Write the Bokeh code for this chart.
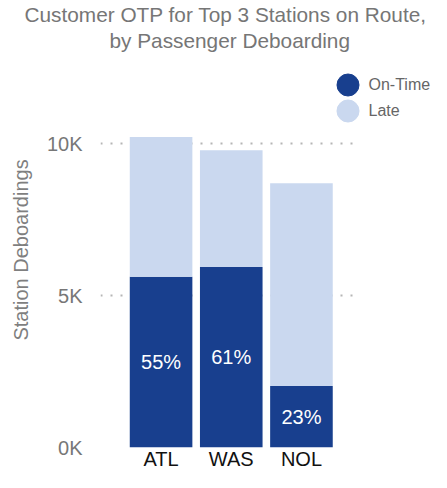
from bokeh.plotting import figure
from bokeh.models import (ColumnDataSource, Range1d, FixedTicker, CustomJSTickFormatter,
                          Legend, LegendItem, Title, Label)
from bokeh.core.properties import value
from bokeh.embed import file_html
from bokeh.resources import INLINE

# ---- data ----
stations = ["ATL", "WAS", "NOL"]
on_time = [5620, 5940, 2020]
late = [4600, 3840, 6680]
y_ticks = [0, 5000, 10000]
title_lines = ["Customer OTP for Top 3 Stations on Route,", "by Passenger Deboarding"]
series_names = ["On-Time", "Late"]

DARK = "#183F8E"
LIGHT = "#CAD8EF"
FONT = "Liberation Sans"

xs = list(range(len(stations)))
totals = [a + b for a, b in zip(on_time, late)]
pct = [f"{round(a / t * 100)}%" for a, t in zip(on_time, totals)]
mid = [a / 2 for a in on_time]

src = ColumnDataSource(dict(x=xs, on_time=on_time, late=late, mid=mid, pct=pct))

X0, X1 = -0.863, 3.853
p = figure(width=431, height=472, output_backend="svg", toolbar_location=None,
           x_range=Range1d(X0, X1), y_range=Range1d(0, 13000),
           min_border_left=100, min_border_right=0, min_border_top=52, min_border_bottom=0)
p.title = None

t2 = Title(text=title_lines[1], align="left", offset=9, text_font=FONT,
           text_font_size="20.8px", text_font_style="normal", text_color="#767676", standoff=2)
t1 = Title(text=title_lines[0], align="left", offset=-76, text_font=FONT,
           text_font_size="20.8px", text_font_style="normal", text_color="#767676", standoff=0)
p.add_layout(t2, "above")
p.add_layout(t1, "above")

# legend proxies (hidden underneath the bars)
r_on = p.scatter(x="x", y="mid", source=src, marker="circle", size=22, color=DARK)
r_late = p.scatter(x="x", y="mid", source=src, marker="circle", size=22, color=LIGHT)

p.vbar_stack(["on_time", "late"], x="x", width=0.892, color=[DARK, LIGHT],
             line_color=None, source=src)

p.text(x="x", y="mid", text="pct", source=src, text_align="center",
       text_baseline="middle", text_color="white", text_font_size="20px",
       text_font=value(FONT))

# axes
p.xaxis.ticker = FixedTicker(ticks=xs)
p.xaxis.major_label_overrides = {i: s for i, s in zip(xs, stations)}
p.xaxis.major_label_text_font = FONT
p.xaxis.major_label_text_font_size = "20px"
p.xaxis.major_label_text_color = "#111111"
p.xaxis.major_label_standoff = 0
p.yaxis.ticker = FixedTicker(ticks=y_ticks)
p.yaxis.formatter = CustomJSTickFormatter(code="return (tick/1000).toFixed(0) + 'K';")
p.yaxis.major_label_text_font = FONT
p.yaxis.major_label_text_font_size = "20px"
p.yaxis.major_label_text_color = "#777777"
p.yaxis.major_label_standoff = 18
p.yaxis.axis_label = "Station Deboardings"
p.yaxis.axis_label_text_font = FONT
p.yaxis.axis_label_text_font_size = "20px"
p.yaxis.axis_label_text_font_style = "normal"
p.yaxis.axis_label_text_color = "#7f7f7f"
p.yaxis.axis_label_standoff = 12
for ax in (p.xaxis, p.yaxis):
    ax.axis_line_color = None
    ax.major_tick_line_color = None
    ax.minor_tick_line_color = None
    ax.major_tick_out = 0
    ax.major_tick_in = 0

p.xgrid.grid_line_color = None
p.ygrid.grid_line_color = "#b5b5b5"
p.ygrid.grid_line_dash = "2 8"
p.ygrid.grid_line_width = 2
p.ygrid.cross_bounds = (X0, 2.734)
p.outline_line_color = None

# legend: circle swatches + text labels
for r, name, vy, ly in [(r_on, series_names[0], 335, 363), (r_late, series_names[1], 309, 337)]:
    lg = Legend(items=[LegendItem(label="", renderers=[r])],
                location=(220, vy), glyph_width=55, glyph_height=55,
                label_standoff=0, label_width=0, padding=0, margin=0,
                background_fill_alpha=0, border_line_alpha=0,
                label_text_font_size="1px")
    p.add_layout(lg, "center")
    p.add_layout(Label(x=268, y=ly, x_units="screen", y_units="screen", text=name,
                       text_font=FONT, text_font_size="16px", text_color="#666666",
                       text_baseline="middle", text_align="left"))

open("out.html", "w").write(file_html(p, INLINE))
